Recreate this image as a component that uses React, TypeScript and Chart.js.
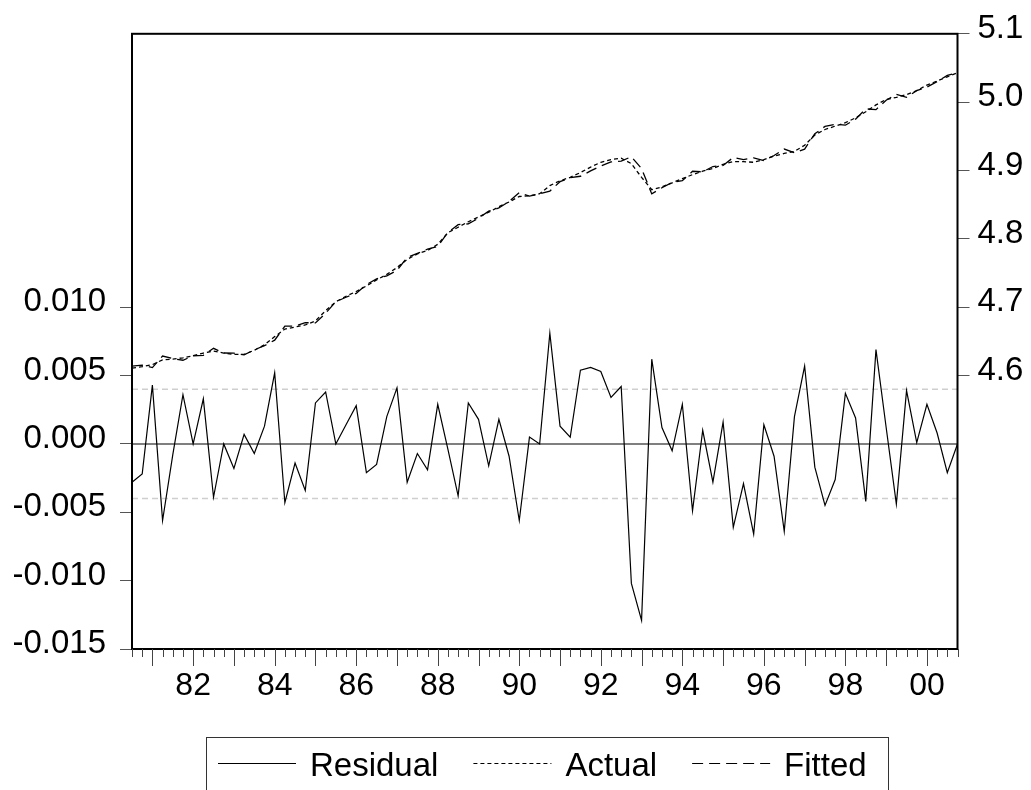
import React, { useEffect, useRef } from "react";
import { Chart, registerables } from "chart.js";

Chart.register(...registerables);

const QUARTERS = (
  "1980Q3 1980Q4 1981Q1 1981Q2 1981Q3 1981Q4 1982Q1 1982Q2 1982Q3 1982Q4 " +
  "1983Q1 1983Q2 1983Q3 1983Q4 1984Q1 1984Q2 1984Q3 1984Q4 1985Q1 1985Q2 1985Q3 1985Q4 " +
  "1986Q1 1986Q2 1986Q3 1986Q4 1987Q1 1987Q2 1987Q3 1987Q4 1988Q1 1988Q2 1988Q3 1988Q4 " +
  "1989Q1 1989Q2 1989Q3 1989Q4 1990Q1 1990Q2 1990Q3 1990Q4 1991Q1 1991Q2 1991Q3 1991Q4 " +
  "1992Q1 1992Q2 1992Q3 1992Q4 1993Q1 1993Q2 1993Q3 1993Q4 1994Q1 1994Q2 1994Q3 1994Q4 " +
  "1995Q1 1995Q2 1995Q3 1995Q4 1996Q1 1996Q2 1996Q3 1996Q4 1997Q1 1997Q2 1997Q3 1997Q4 " +
  "1998Q1 1998Q2 1998Q3 1998Q4 1999Q1 1999Q2 1999Q3 1999Q4 2000Q1 2000Q2 2000Q3 2000Q4"
).split(" ");

const RESIDUAL = [
  -0.0028, -0.0022, 0.0043, -0.0056, -0.0008, 0.0036, 0.0, 0.0033, -0.0039, 0.0,
  -0.0018, 0.0007, -0.0007, 0.0013, 0.0052, -0.0043, -0.0014, -0.0034, 0.003, 0.0038,
  0.0, 0.0014, 0.0028, -0.0021, -0.0015, 0.002, 0.0041, -0.0028, -0.0007, -0.0019,
  0.0029, -0.0004, -0.0038, 0.003, 0.0018, -0.0016, 0.0018, -0.0009, -0.0056, 0.0005,
  0.0, 0.0081, 0.0013, 0.0005, 0.0054, 0.0056, 0.0053, 0.0034, 0.0042, -0.0102,
  -0.0129, 0.0062, 0.0012, -0.0005, 0.0029, -0.0049, 0.001, -0.0028, 0.0016, -0.0061,
  -0.0029, -0.0066, 0.0014, -0.0009, -0.0064, 0.002, 0.0057, -0.0017, -0.0045, -0.0026,
  0.0037, 0.0019, -0.0042, 0.0069, 0.0012, -0.0044, 0.0039, 0.0001, 0.0029, 0.0008,
  -0.0021, 0.0,
];

const ACTUAL = [
  4.611, 4.613, 4.616, 4.623, 4.624, 4.626, 4.629, 4.633, 4.636, 4.633,
  4.631, 4.631, 4.637, 4.645, 4.657, 4.668, 4.671, 4.674, 4.68, 4.695,
  4.708, 4.716, 4.723, 4.731, 4.74, 4.748, 4.758, 4.77, 4.778, 4.783,
  4.792, 4.809, 4.817, 4.825, 4.832, 4.839, 4.847, 4.854, 4.862, 4.863,
  4.866, 4.878, 4.885, 4.89, 4.897, 4.905, 4.912, 4.916, 4.918, 4.91,
  4.89, 4.872, 4.876, 4.882, 4.888, 4.894, 4.899, 4.903, 4.909, 4.913,
  4.913, 4.912, 4.916, 4.921, 4.925, 4.928, 4.937, 4.952, 4.96, 4.965,
  4.97, 4.977, 4.986, 4.996, 5.004, 5.007, 5.011, 5.017, 5.025, 5.031,
  5.037, 5.043,
];

const FITTED = [
  4.6138, 4.6152, 4.6117, 4.6286, 4.6248, 4.6224, 4.629, 4.6297, 4.6399, 4.633,
  4.6328, 4.6303, 4.6377, 4.6437, 4.6518, 4.6723, 4.6724, 4.6774, 4.677, 4.6912,
  4.708, 4.7146, 4.7202, 4.7331, 4.7415, 4.746, 4.7539, 4.7728, 4.7787, 4.7849,
  4.7891, 4.8094, 4.8208, 4.822, 4.8302, 4.8406, 4.8452, 4.8549, 4.8676, 4.8625,
  4.866, 4.8699, 4.8837, 4.8895, 4.8916, 4.8994, 4.9067, 4.9126, 4.9138, 4.9202,
  4.9029, 4.8658, 4.8748, 4.8825, 4.8851, 4.8989, 4.898, 4.9058, 4.9074, 4.9191,
  4.9159, 4.9186, 4.9146, 4.9219, 4.9314, 4.926, 4.9313, 4.9537, 4.9645, 4.9676,
  4.9663, 4.9751, 4.9902, 4.9891, 5.0028, 5.0114, 5.0071, 5.0169, 5.0221, 5.0302,
  5.0391, 5.043,
];

const LEFT_TICKS = [-0.015, -0.01, -0.005, 0, 0.005, 0.01];
const RIGHT_TICKS = [4.6, 4.7, 4.8, 4.9, 5.0, 5.1];
const X_TICK_LABELS = ["82", "84", "86", "88", "90", "92", "94", "96", "98", "00"];
const SERIES_NAMES = ["Residual", "Actual", "Fitted"];
const RESID_SE = 0.004;

const FONT = "'Liberation Sans', Arial, sans-serif";

function xLabelFor(q: string): string {
  if (!q.endsWith("Q1")) return "";
  const yy = q.slice(2, 4);
  return X_TICK_LABELS.includes(yy) ? yy : "";
}

const decor = {
  id: "decor",
  beforeDatasetsDraw(chart: any) {
    const { ctx, chartArea: a, scales } = chart;
    const yL = scales.yL;
    ctx.save();
    ctx.beginPath();
    ctx.rect(a.left, a.top, a.right - a.left, a.bottom - a.top);
    ctx.clip();
    ctx.strokeStyle = "#cfcfcf";
    ctx.lineWidth = 1.5;
    ctx.setLineDash([6, 4]);
    for (const v of [RESID_SE, -RESID_SE]) {
      const y = yL.getPixelForValue(v);
      ctx.beginPath();
      ctx.moveTo(a.left, y);
      ctx.lineTo(a.right, y);
      ctx.stroke();
    }
    ctx.setLineDash([]);
    ctx.strokeStyle = "#555";
    ctx.lineWidth = 1.5;
    const y0 = yL.getPixelForValue(0);
    ctx.beginPath();
    ctx.moveTo(a.left, y0);
    ctx.lineTo(a.right, y0);
    ctx.stroke();
    ctx.restore();
  },
  afterDraw(chart: any) {
    const { ctx, chartArea: a, scales } = chart;
    const xs = scales.x;
    ctx.save();
    // frame
    ctx.strokeStyle = "#000";
    ctx.lineWidth = 2;
    ctx.strokeRect(a.left, a.top, a.right - a.left, a.bottom - a.top);
    // quarterly ticks
    ctx.strokeStyle = "#444";
    ctx.lineWidth = 1;
    QUARTERS.forEach((q, i) => {
      const x = Math.round(xs.getPixelForValue(i)) + 0.5;
      const len = q.endsWith("Q1") ? 17 : 8;
      ctx.beginPath();
      ctx.moveTo(x, a.bottom);
      ctx.lineTo(x, a.bottom + len);
      ctx.stroke();
    });
    // legend
    const boxL = 206, boxT = 737, boxR = 888;
    ctx.strokeStyle = "#333";
    ctx.lineWidth = 1;
    ctx.strokeRect(boxL + 0.5, boxT + 0.5, boxR - boxL, 80);
    ctx.font = `33px ${FONT}`;
    ctx.fillStyle = "#000";
    ctx.textBaseline = "alphabetic";
    ctx.textAlign = "left";
    let x = 218;
    chart.data.datasets.forEach((ds: any) => {
      ctx.strokeStyle = "#000";
      ctx.lineWidth = 1.2;
      ctx.setLineDash(ds.borderDash || []);
      ctx.beginPath();
      ctx.moveTo(x, 763.5);
      ctx.lineTo(x + 78, 763.5);
      ctx.stroke();
      ctx.setLineDash([]);
      x += 78 + 14;
      ctx.fillText(ds.label, x, 776);
      x += ctx.measureText(ds.label).width + 35;
    });
    ctx.restore();
  },
};

export default function App() {
  const ref = useRef<HTMLCanvasElement>(null);
  useEffect(() => {
    const canvas = ref.current!;
    const chart = new Chart(canvas, {
      type: "line",
      data: {
        labels: QUARTERS,
        datasets: [
          {
            label: SERIES_NAMES[0],
            data: RESIDUAL,
            yAxisID: "yL",
            borderColor: "#000",
            borderWidth: 1.2,
            pointRadius: 0,
            tension: 0,
          },
          {
            label: SERIES_NAMES[1],
            data: ACTUAL,
            yAxisID: "yR",
            borderColor: "#000",
            borderWidth: 1.3,
            borderDash: [4, 3],
            pointRadius: 0,
            tension: 0,
          },
          {
            label: SERIES_NAMES[2],
            data: FITTED,
            yAxisID: "yR",
            borderColor: "#000",
            borderWidth: 1.3,
            borderDash: [11, 6],
            pointRadius: 0,
            tension: 0,
          },
        ],
      },
      options: {
        responsive: false,
        animation: false,
        devicePixelRatio: 1,
        layout: { padding: { top: 30, left: 0, right: 0, bottom: 0 } },
        plugins: { legend: { display: false }, tooltip: { enabled: false } },
        scales: {
          x: {
            type: "category",
            offset: false,
            grid: { display: false },
            border: { display: false },
            afterFit: (s: any) => {
              s.height = 141;
            },
            ticks: {
              autoSkip: false,
              maxRotation: 0,
              minRotation: 0,
              padding: 10,
              color: "#000",
              font: { family: FONT, size: 32 },
              callback: (_v: any, i: number) => xLabelFor(QUARTERS[i]),
            },
          },
          yL: {
            type: "linear",
            position: "left",
            min: -0.015,
            max: 0.03,
            afterBuildTicks: (s: any) => {
              s.ticks = LEFT_TICKS.map((v) => ({ value: v }));
            },
            afterFit: (s: any) => {
              s.width = 132;
            },
            grid: {
              drawOnChartArea: false,
              drawTicks: true,
              tickLength: 12,
              tickColor: "#555",
              lineWidth: 1,
            },
            border: { display: false },
            ticks: {
              padding: 14,
              labelOffset: -5,
              color: "#000",
              font: { family: FONT, size: 33 },
              callback: (v: any) => Number(v).toFixed(3),
            },
          },
          yR: {
            type: "linear",
            position: "right",
            min: 4.2,
            max: 5.1,
            afterBuildTicks: (s: any) => {
              s.ticks = RIGHT_TICKS.map((v) => ({ value: v }));
            },
            afterFit: (s: any) => {
              s.width = 73.5;
            },
            grid: {
              drawOnChartArea: false,
              drawTicks: true,
              tickLength: 12,
              tickColor: "#555",
              lineWidth: 1,
            },
            border: { display: false },
            ticks: {
              padding: 8,
              labelOffset: -5,
              color: "#000",
              font: { family: FONT, size: 33 },
              callback: (v: any) => Number(v).toFixed(1),
            },
          },
        },
      },
      plugins: [decor],
    });
    return () => chart.destroy();
  }, []);
  return (
    <canvas
      ref={ref}
      width={1031}
      height={790}
      style={{ position: "absolute", left: 0, top: 0, display: "block" }}
    />
  );
}
